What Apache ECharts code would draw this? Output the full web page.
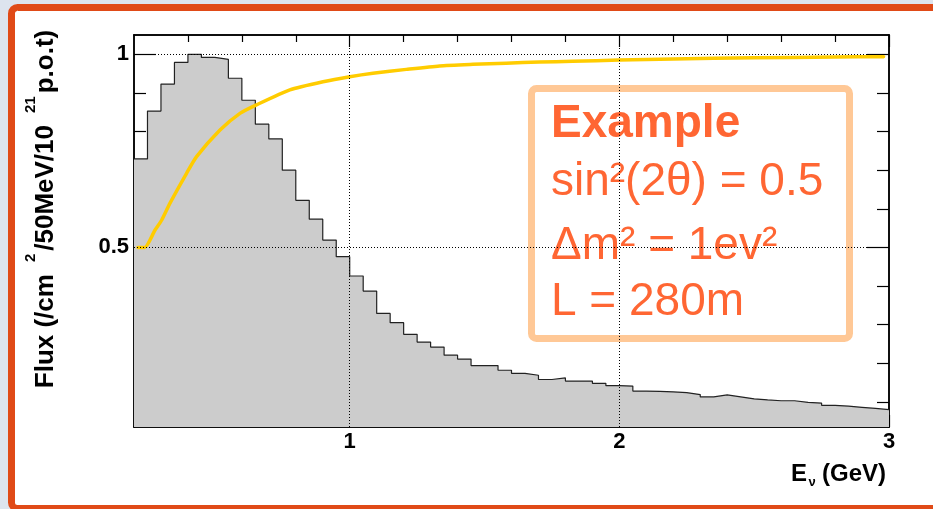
<!DOCTYPE html>
<html><head><meta charset="utf-8">
<script src="https://cdn.jsdelivr.net/npm/echarts@6/dist/echarts.min.js"></script>
<style>html,body{margin:0;padding:0;background:#dde4ee}#c{width:933px;height:509px}</style>
</head><body><div id="c"></div>
<script>
// ---- data ----
const binStart = 0.2;
const binWidth = 0.05;
const fluxValues = [0.729,0.853,0.923,0.979,1.0,0.992,0.987,0.938,0.881,0.819,
  0.781,0.700,0.622,0.573,0.519,0.476,0.426,0.387,0.329,0.305,
  0.275,0.255,0.242,0.221,0.211,0.194,0.194,0.182,0.174,0.169,
  0.158,0.162,0.154,0.154,0.148,0.142,0.141,0.128,0.127,0.126,
  0.124,0.119,0.113,0.118,0.113,0.108,0.105,0.103,0.103,0.099,
  0.097,0.091,0.089,0.086,0.083,0.080];
const curveE = [0.215,0.24,0.278,0.303,0.333,0.395,0.432,0.519,0.593,0.654,0.778,0.901,1.0,1.086,1.21,1.333,1.457,1.58,1.704,1.827,2.0,2.2,2.5,2.8,2.98];
const curveP = [0.5,0.5,0.545,0.571,0.614,0.692,0.735,0.804,0.847,0.869,0.908,0.929,0.942,0.951,0.961,0.970,0.974,0.977,0.980,0.982,0.985,0.988,0.991,0.993,0.994];
const xMajorTicks = [1,2,3];
const xMinorTicks = [0.4,0.6,0.8,1.2,1.4,1.6,1.8,2.2,2.4,2.6,2.8];
const yMajorTicks = [0.5,1];
const yMinorTicks = [0.1,0.2,0.3,0.4,0.6,0.7,0.8,0.9];
const xGridLines = [1,2];
const yGridLines = [0.5,1];
const boxLines = ['Example','sin\u00b2(2\u03b8) = 0.5','\u0394m\u00b2 = 1ev\u00b2','L = 280m'];

const FONT = '"Liberation Sans", Arial, Helvetica, sans-serif';
const X_MIN = 0.2, X_MAX = 3.0, Y_MIN = 0.035, Y_MAX = 1.05;

function xAx(pos, ticks, len, labels){
  return {type:'value', position:pos, min:X_MIN, max:X_MAX,
    axisLine:{show:true,onZero:false,lineStyle:{color:'#000',width:1.5}},
    axisTick:{show:true,inside:true,length:len,customValues:ticks,lineStyle:{color:'#000',width:1.2}},
    axisLabel:{show:labels,customValues:ticks,margin:4,color:'#000',fontSize:22,fontWeight:'bold',fontFamily:FONT},
    splitLine:{show:false}};
}
function yAx(pos, ticks, len, labels){
  return {type:'value', position:pos, min:Y_MIN, max:Y_MAX,
    axisLine:{show:true,onZero:false,lineStyle:{color:'#000',width:1.5}},
    axisTick:{show:true,inside:true,length:len,customValues:ticks,lineStyle:{color:'#000',width:1.2}},
    axisLabel:{show:labels,customValues:ticks,margin:5,color:'#000',fontSize:22,fontWeight:'bold',fontFamily:FONT},
    splitLine:{show:false}};
}

const histData = fluxValues.map((v,i)=>[+(binStart+i*binWidth).toFixed(4), v]);
histData.push([+(binStart+fluxValues.length*binWidth).toFixed(4), fluxValues[fluxValues.length-1]]);
const curveData = curveE.map((e,i)=>[e, curveP[i]]);

const chart = echarts.init(document.getElementById('c'), null, {renderer:'canvas'});
const textColor = '#FF6633';
const boxBaselines = [140,198,262,318];
chart.setOption({
  animation:false,
  backgroundColor:'#dde4ee',
  grid:{left:134,right:44,top:35,bottom:82},
  xAxis:[xAx('bottom',xMajorTicks,12,true), xAx('bottom',xMinorTicks,7,false),
         xAx('top',xMajorTicks,12,false), xAx('top',xMinorTicks,7,false)],
  yAxis:[yAx('left',yMajorTicks,22,true), yAx('left',yMinorTicks,12,false),
         yAx('right',yMajorTicks,22,false), yAx('right',yMinorTicks,12,false)],
  series:[
    {type:'line', data:[], z:1, silent:true,
     markLine:{silent:true, symbol:'none', animation:false, label:{show:false},
       lineStyle:{type:[1,2], color:'#000', width:1},
       data:[...xGridLines.map(v=>({xAxis:v})), ...yGridLines.map(v=>({yAxis:v}))]}},
    {type:'line', step:'end', data:histData, symbol:'none', z:2, silent:true,
     lineStyle:{color:'#222',width:1.2},
     areaStyle:{color:'#cccccc',opacity:1,origin:'start'}},
    {type:'line', data:curveData, symbol:'none', z:3, silent:true, smooth:0.2,
     lineStyle:{color:'#FFCC00',width:3.5,cap:'round',join:'round'}}
  ],
  graphic:[
    {type:'rect', z:-10, silent:true, shape:{x:11.5,y:7.5,width:940,height:501,r:6},
     style:{fill:'#ffffff',stroke:'#E04A17',lineWidth:7}},
    {type:'rect', silent:true, shape:{x:531.5,y:88.5,width:318,height:250,r:5},
     style:{fill:'none',stroke:'#FFC896',lineWidth:7}},
    ...boxLines.map((t,i)=>({type:'text', silent:true, x:551, y:boxBaselines[i]-16,
      style:{text:t, fill:textColor, font:(i===0?'bold ':'')+'46px '+FONT, align:'left', verticalAlign:'middle'}})),
    {type:'text', silent:true, x:41, y:209, rotation:Math.PI/2,
     style:{text:'{n|Flux (/cm}{s|2}{n|/50MeV/10}{s|21}{n|p.o.t)}', align:'center', verticalAlign:'middle',
       rich:{n:{fontSize:26,fontWeight:'bold',fontFamily:FONT,fill:'#000',lineHeight:36,verticalAlign:'bottom'},
             s:{fontSize:15,fontWeight:'bold',fontFamily:FONT,fill:'#000',verticalAlign:'top',padding:[0,3,0,12]}}}},
    {type:'text', silent:true, x:791, y:483-8.5, style:{text:'E', fill:'#000', font:'bold 24px '+FONT, align:'left', verticalAlign:'middle'}},
    {type:'text', silent:true, x:808.5, y:487-4.5, style:{text:'\u03bd', fill:'#000', font:'bold 13px '+FONT, align:'left', verticalAlign:'middle'}},
    {type:'text', silent:true, x:886, y:483-8.5, style:{text:'(GeV)', fill:'#000', font:'bold 24px '+FONT, align:'right', verticalAlign:'middle'}}
  ]
});
</script></body></html>
